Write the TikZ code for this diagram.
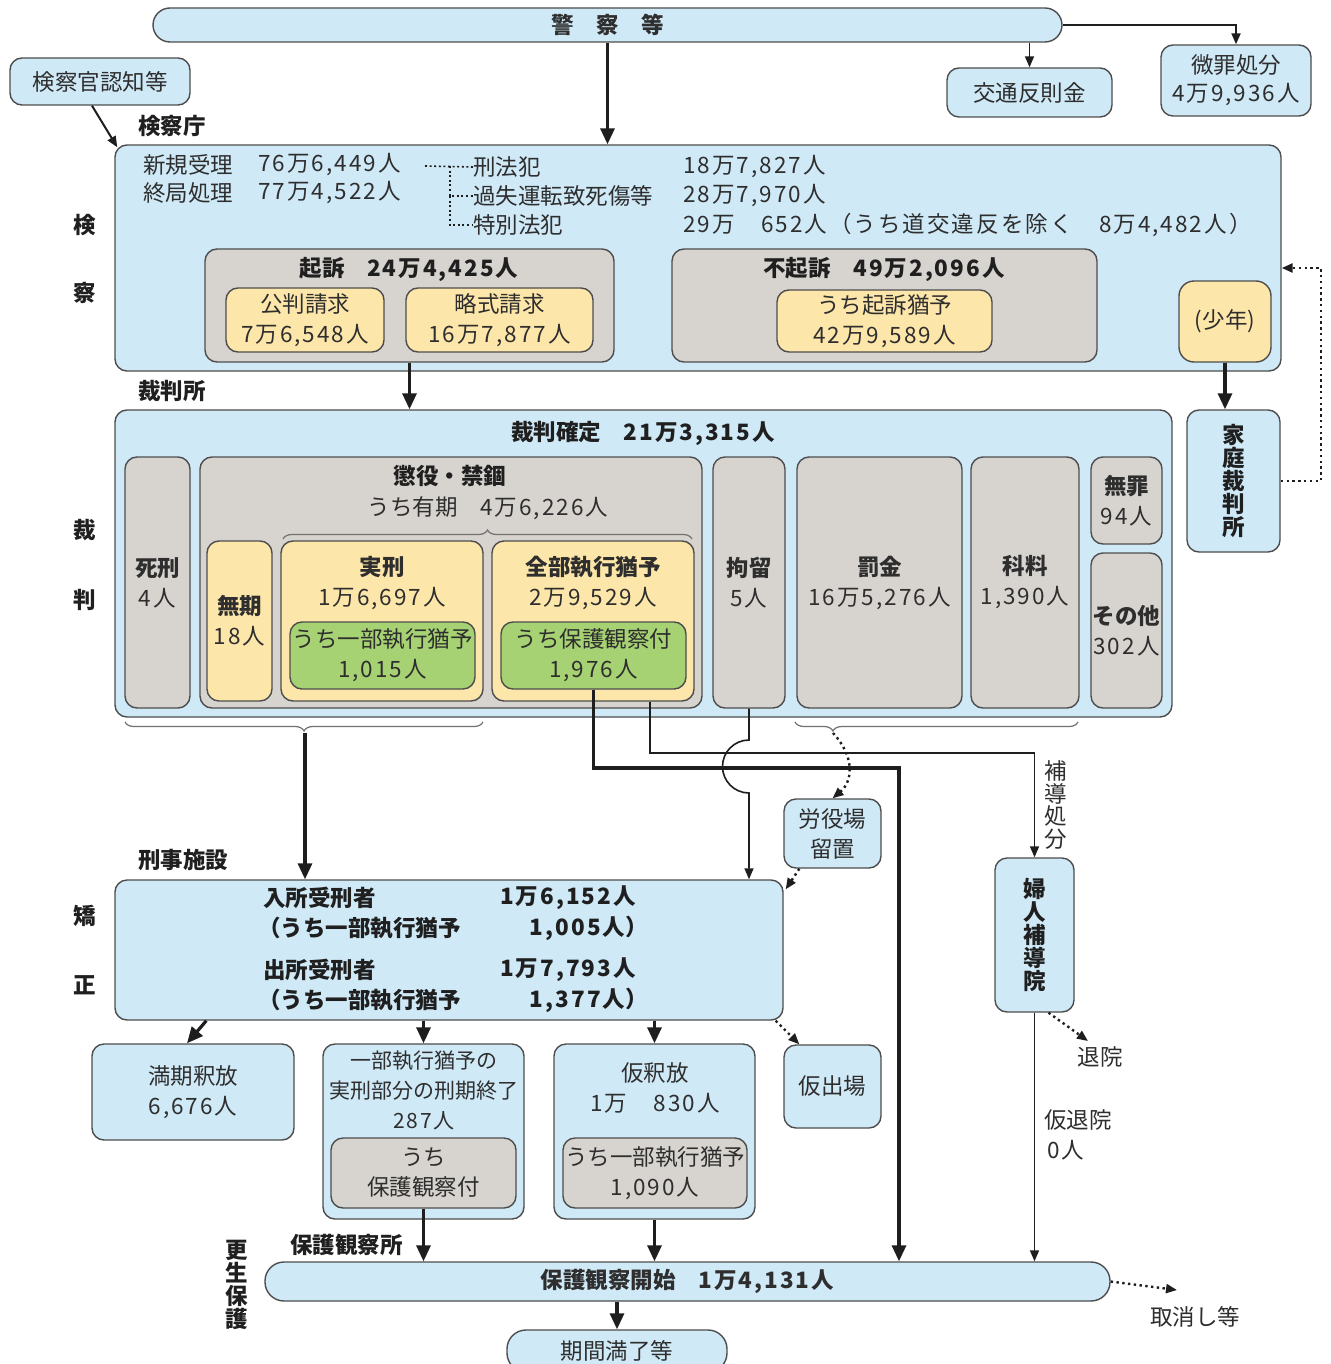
\documentclass[tikz,border=0pt]{standalone}
\usepackage{fontspec}
\setmainfont{Noto Sans CJK JP}
\usetikzlibrary{arrows.meta,decorations.pathreplacing}
\definecolor{lb}{HTML}{CFE9F7}
\definecolor{gy}{HTML}{D7D4CF}
\definecolor{yl}{HTML}{FDE6AA}
\definecolor{gr}{HTML}{A6D273}
\definecolor{bd}{HTML}{4D4D4D}
\definecolor{tx}{HTML}{2E2E2E}
\definecolor{lc}{HTML}{1E1E1E}
\newcommand{\mybox}[7]{\node[#1, minimum width={#5pt-#3pt}, minimum height={#6pt-#4pt}] (#2) at ({(#3+#5)/2},{(#4+#6)/2}) {#7};}
\newcommand{\nm}[1]{{\addfontfeatures{LetterSpace=9}#1}}
\begin{document}
\begin{tikzpicture}[x=1pt,y=-1pt,
  every node/.style={text=tx, font=\fontsize{22.5}{30}\selectfont, inner sep=0pt, align=center},
  bx/.style={draw=bd, line width=1.4pt, rounded corners=12pt},
  lbx/.style={bx, fill=lb}, gbx/.style={bx, fill=gy}, ybx/.style={bx, fill=yl}, grx/.style={bx, fill=gr},
  pill/.style={draw=bd, line width=1.4pt, fill=lb, rounded corners=17pt},
  bt/.style={font=\fontsize{22.5}{30}\selectfont\bfseries, text=black!88},
  vt/.style={font=\fontsize{22.5}{23}\selectfont\bfseries, text=black!88},
  ln/.style={draw=lc, line width=1.6pt, -{Triangle[length=11pt,width=9pt]}},
  tk/.style={draw=lc, line width=3.2pt, -{Triangle[length=16pt,width=14pt]}},
  dt/.style={draw=lc, line width=2.4pt, dash pattern=on 2.4pt off 3.4pt, -{Triangle[length=11pt,width=9pt]}},
  brc/.style={draw=bd!80, line width=1.2pt, decorate}
]
\useasboundingbox (0,0) rectangle (1330,1364);
\fill[white] (0,0) rectangle (1330,1364);

% ---------- top ----------
\mybox{pill}{keisatsu}{153}{8}{1062}{42}{\bfseries 警　察　等}
\mybox{lbx}{ninchi}{10}{58}{190}{105}{検察官認知等}
\mybox{lbx}{kotsu}{947}{68}{1112}{117}{交通反則金}
\mybox{lbx, font=\fontsize{22.5}{28}\selectfont}{bizai}{1161}{45}{1311}{116}{微罪処分\\\nm{4万9,936人}}

% ---------- kensatsu ----------
\node[bt, anchor=west] (lkc) at (138,126) {検察庁};
\mybox{lbx}{kensatsu}{115}{145}{1281}{371}{}
\node[bt] (sk1) at (85,225) {検};
\node[bt] (sk2) at (85,293) {察};
\node[anchor=west] (shinki) at (143,165) {新規受理};
\node[anchor=west] (shinkiN) at (258,165) {\nm{76万6,449人}};
\node[anchor=west] (shukyoku) at (143,193) {終局処理};
\node[anchor=west] (shukyokuN) at (258,193) {\nm{77万4,522人}};
\node[anchor=west] (keiho) at (473,167) {刑法犯};
\node[anchor=west] (kashitsu) at (473,196) {過失運転致死傷等};
\node[anchor=west] (tokubetsu) at (473,225) {特別法犯};
\node[anchor=west] (keihoN) at (683,167) {\nm{18万7,827人}};
\node[anchor=west] (kashitsuN) at (683,196) {\nm{28万7,970人}};
\node[anchor=west] (tokubetsuN) at (683,225) {\nm{29万　652人（うち道交違反を除く　8万4,482人）}};
\draw[draw=lc, line width=1.6pt, dash pattern=on 2pt off 2.6pt] (425,166) -- (keiho.west);
\draw[draw=lc, line width=1.6pt, dash pattern=on 2pt off 2.6pt] (450,166) |- (kashitsu.west);
\draw[draw=lc, line width=1.6pt, dash pattern=on 2pt off 2.6pt] (450,196) |- (tokubetsu.west);

\mybox{gbx}{kiso}{205}{249}{614}{362}{}
\node[bt] (kisot) at (409,269) {起訴　\nm{24万4,425人}};
\mybox{ybx}{kohan}{226}{288}{384}{352}{公判請求\\\nm{7万6,548人}}
\mybox{ybx}{ryaku}{406}{288}{593}{352}{略式請求\\\nm{16万7,877人}}
\mybox{gbx}{fukiso}{672}{249}{1097}{362}{}
\node[bt] (fukisot) at (884,269) {不起訴　\nm{49万2,096人}};
\mybox{ybx}{yuyo}{777}{290}{992}{352}{うち起訴猶予\\\nm{42万9,589人}}
\mybox{ybx, rounded corners=15pt}{shonen}{1179}{281}{1271}{362}{(少年)}

% ---------- saiban ----------
\node[bt, anchor=west] (lsb) at (138,391) {裁判所};
\mybox{lbx, font=\fontsize{22.5}{23}\selectfont\bfseries, text=black!88}{kasai}{1187}{410}{1280}{552}{家\\庭\\裁\\判\\所}
\mybox{lbx}{saiban}{115}{410}{1172}{717}{}
\node[bt] (ss1) at (85,530) {裁};
\node[bt] (ss2) at (85,600) {判};
\node[bt] (saibant) at (643,433) {裁判確定　\nm{21万3,315人}};
\mybox{gbx}{shikei}{125}{457}{190}{708}{\textbf{死刑}\\\nm{4人}}
\mybox{gbx}{choeki}{200}{457}{702}{708}{}
\node[bt] (choekit) at (450,476) {懲役・禁錮};
\node (yuki) at (488,508) {うち有期　\nm{4万6,226人}};
\draw[brc, decoration={brace, amplitude=9pt, aspect=0.5}] (283,539) -- (692,539);
\mybox{ybx}{muki}{207}{541}{272}{701}{\textbf{無期}\\\nm{18人}}
\mybox{ybx}{jikkei}{281}{541}{483}{701}{}
\node (jikkeit) at (382,583) {\textbf{実刑}\\\nm{1万6,697人}};
\mybox{grx}{ichibuS}{290}{622}{475}{689}{うち一部執行猶予\\\nm{1,015人}}
\mybox{ybx}{zenbu}{492}{541}{694}{701}{}
\node (zenbut) at (593,583) {\textbf{全部執行猶予}\\\nm{2万9,529人}};
\mybox{grx}{hogoS}{501}{622}{686}{689}{うち保護観察付\\\nm{1,976人}}
\mybox{gbx}{koryu}{713}{457}{785}{708}{\textbf{拘留}\\\nm{5人}}
\mybox{gbx}{bakkin}{797}{457}{962}{708}{\textbf{罰金}\\\nm{16万5,276人}}
\mybox{gbx}{karyo}{971}{457}{1079}{708}{\textbf{科料}\\\nm{1,390人}}
\mybox{gbx}{muzai}{1091}{457}{1162}{544}{\textbf{無罪}\\\nm{94人}}
\mybox{gbx}{sonota}{1091}{553}{1162}{708}{\textbf{その他}\\\nm{302人}}
\draw[brc, decoration={brace, amplitude=9pt, aspect=0.5}] (483,722) -- (125,722);
\draw[brc, decoration={brace, amplitude=9pt, aspect=0.866}] (1078,722) -- (795,722);
\coordinate (bl) at (305,733);
\coordinate (brr) at (833,733);

% ---------- kyosei ----------
\node[bt, anchor=west] (lkj) at (138,860) {刑事施設};
\mybox{lbx}{keiji}{115}{880}{783}{1020}{}
\node[bt] (sy1) at (85,916) {矯};
\node[bt] (sy2) at (85,985) {正};
\node[bt, anchor=west] (k1) at (263,898) {入所受刑者};
\node[bt, anchor=west] (k1n) at (500,898) {\nm{1万6,152人}};
\node[bt, anchor=west] (k2) at (258,928) {（うち一部執行猶予};
\node[bt, anchor=east] (k2n) at (648,928) {\nm{1,005人}）};
\node[bt, anchor=west] (k3) at (263,970) {出所受刑者};
\node[bt, anchor=west] (k3n) at (500,970) {\nm{1万7,793人}};
\node[bt, anchor=west] (k4) at (258,1000) {（うち一部執行猶予};
\node[bt, anchor=east] (k4n) at (648,1000) {\nm{1,377人}）};
\mybox{lbx}{roeki}{784}{799}{881}{868}{労役場\\留置}
\mybox{lbx, font=\fontsize{22.5}{23}\selectfont\bfseries, text=black!88}{fujin}{995}{858}{1074}{1012}{婦\\人\\補\\導\\院}
\node[font=\fontsize{22.5}{22.5}\selectfont] (hodo) at (1056,805) {補\\導\\処\\分};

\mybox{lbx}{mankichi}{92}{1044}{294}{1140}{満期釈放\\\nm{6,676人}}
\mybox{lbx}{ichibu}{323}{1044}{524}{1219}{}
\node[font=\fontsize{21}{30}\selectfont] (ichibut) at (424,1090) {一部執行猶予の\\実刑部分の刑期終了\\\nm{287人}};
\mybox{gbx}{uchi1}{331}{1138}{516}{1208}{うち\\保護観察付}
\mybox{lbx}{karishaku}{554}{1044}{755}{1219}{}
\node (karishakut) at (655,1088) {仮釈放\\\nm{1万　830人}};
\mybox{gbx}{uchi2}{563}{1138}{747}{1208}{うち一部執行猶予\\\nm{1,090人}}
\mybox{lbx}{karide}{784}{1045}{881}{1128}{仮出場}
\node (taiin) at (1100,1057) {退院};
\node[anchor=west] (karitaiin) at (1044,1120) {仮退院};
\node[anchor=west] (karitaiinN) at (1047,1150) {\nm{0人}};

% ---------- kosei hogo ----------
\node[bt, anchor=west] (lhk) at (290,1245) {保護観察所};
\node[vt] (kh) at (237,1285) {更\\生\\保\\護};
\mybox{pill, rounded corners=19pt}{hogo}{265}{1262}{1110}{1301}{\bfseries 保護観察開始　\nm{1万4,131人}}
\mybox{pill, rounded corners=19pt}{kikan}{507}{1330}{727}{1372}{期間満了等}
\node (torikeshi) at (1195,1317) {取消し等};

% ---------- connectors ----------
\draw[tk] (keisatsu.south) -- (keisatsu.south |- kensatsu.north);
\draw[ln] (kotsu.north |- keisatsu.south) -- (kotsu.north);
\draw[ln, line width=2pt] (keisatsu.east) -| (bizai.north);
\draw[ln, line width=2pt] ([xshift=-8pt]ninchi.south) -- ([xshift=3pt,yshift=-3pt]kensatsu.north west);
\draw[tk] (kiso.south) -- (kiso.south |- saiban.north);
\draw[tk] (shonen.south) -- (shonen.south |- kasai.north);
\draw[dt] (kasai.east) -- ++(40,0) |- ([yshift=-10pt]kensatsu.east);

\draw[tk] (bl) -- (bl |- keiji.north);
\draw[ln] (koryu.south) -- (749,740) arc[start angle=-90, end angle=-270, radius=26.5] -- (koryu.south |- keiji.north);
\coordinate (c1) at (899,768);
\draw[tk] (hogoS.south) |- (c1) -- (c1 |- hogo.north);
\coordinate (c2) at (650,753);
\draw[ln] (zenbu.south -| c2) -- (c2) -| (fujin.north);
\draw[dt] (brr) .. controls (856,758) and (852,782) .. (roeki.north);
\draw[dt] ([xshift=16pt]roeki.south west) -- ([xshift=2pt,yshift=-10pt]keiji.north east);

\draw[tk] ([xshift=92pt]keiji.south west) -- ([xshift=-6pt]mankichi.north);
\draw[tk] (ichibu.north |- keiji.south) -- (ichibu.north);
\draw[tk] (karishaku.north |- keiji.south) -- (karishaku.north);
\draw[dt] ([xshift=-8pt]keiji.south east) -- ([xshift=16pt]karide.north west);
\coordinate (ti) at (1088,1041);
\draw[dt] ([xshift=14pt]fujin.south) -- (ti);
\draw[ln] (fujin.south) -- (fujin.south |- hogo.north);
\draw[tk] (uchi1.south) -- (uchi1.south |- hogo.north);
\draw[tk] (karishaku.south) -- (karishaku.south |- hogo.north);
\draw[tk] (kikan.north |- hogo.south) -- (kikan.north);
\coordinate (tk1) at (1177,1290);
\draw[dt] (hogo.east) -- (tk1);
\end{tikzpicture}
\end{document}
